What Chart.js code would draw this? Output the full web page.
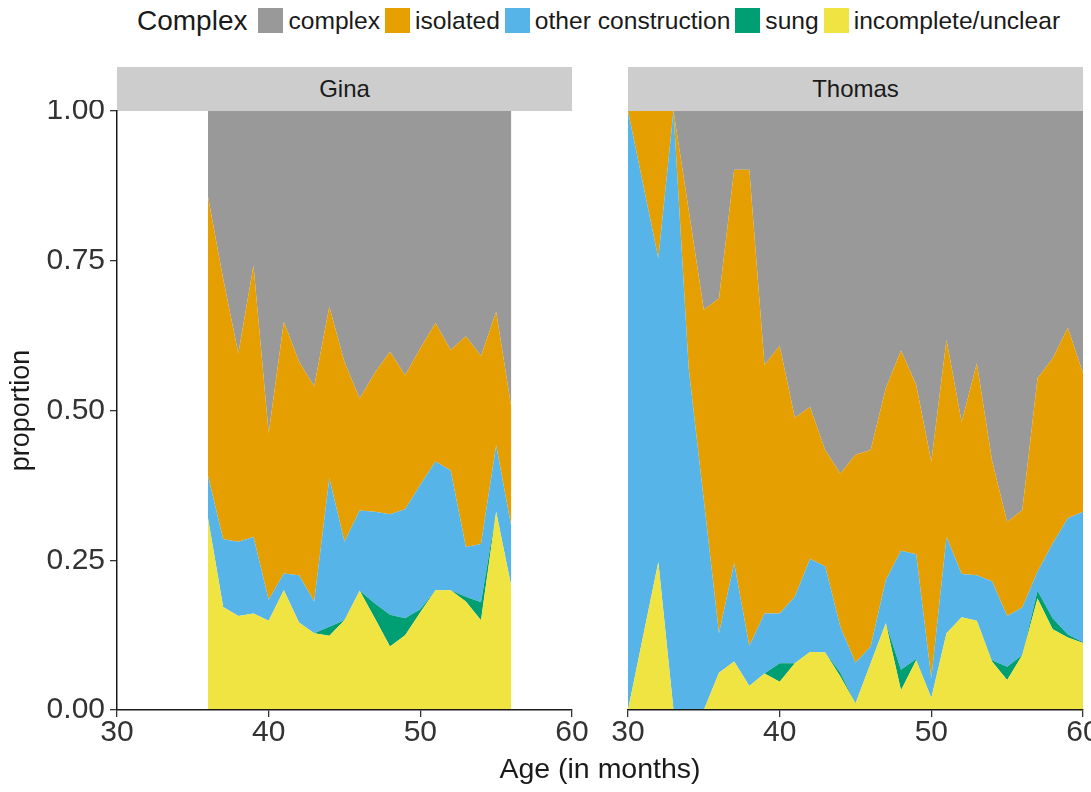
<!DOCTYPE html>
<html>
<head>
<meta charset="utf-8">
<script src="https://cdn.jsdelivr.net/npm/chart.js@4/dist/chart.umd.min.js"></script>
<style>
  body { margin: 0; background: #fff; width: 1091px; height: 792px; position: relative; overflow: hidden;
         font-family: "Liberation Sans", Arial, sans-serif; color: #1a1a1a; }
  canvas { position: absolute; }
  #legend { position: absolute; left: 137px; top: 8px; height: 25px; display: flex; align-items: center; white-space: nowrap; }
  #legend .title { font-size: 28px; margin-right: 11px; }
  #legend .sw { width: 25px; height: 25px; margin-right: 5px; }
  #legend .lab { font-size: 24.6px; margin-right: 5px; }
  .strip { position: absolute; top: 67px; height: 44px; width: 455px; background: #cdcdcd;
           font-size: 24px; display: flex; align-items: center; justify-content: center; }
  #xtitle { position: absolute; top: 752px; left: 400px; width: 400px; text-align: center; font-size: 28.5px; }
</style>
</head>
<body>
<div id="legend"></div>
<div class="strip" style="left:117px">Gina</div>
<div class="strip" style="left:628px">Thomas</div>
<canvas id="gina" width="600" height="660" style="left:0;top:100px"></canvas>
<canvas id="thomas" width="491" height="660" style="left:600px;top:100px"></canvas>
<div id="xtitle">Age (in months)</div>
<script>
// =============================
// Data (proportions per month)
// =============================
const seriesNames = ["complex", "isolated", "other construction", "sung", "incomplete/unclear"];
const xTicks = [30, 40, 50, 60];
const yTicks = [0, 0.25, 0.5, 0.75, 1];

const ginaAges       = [36, 37, 38, 39, 40, 41, 42, 43, 44, 45, 46, 47, 48, 49, 50, 51, 52, 53, 54, 55, 56];
const ginaIncomplete = [0.32, 0.172, 0.157, 0.161, 0.149, 0.20, 0.146, 0.128, 0.124, 0.15, 0.199, 0.153, 0.106, 0.125, 0.163, 0.20, 0.20, 0.181, 0.15, 0.331, 0.206];
const ginaSung       = [0, 0, 0, 0, 0, 0, 0, 0, 0.015, 0, 0, 0.025, 0.053, 0.028, 0.005, 0, 0, 0.008, 0.03, 0, 0];
const ginaOther      = [0.071, 0.113, 0.124, 0.128, 0.035, 0.028, 0.079, 0.053, 0.248, 0.131, 0.134, 0.153, 0.168, 0.182, 0.208, 0.215, 0.20, 0.083, 0.097, 0.111, 0.10];
const ginaIsolated   = [0.466, 0.435, 0.314, 0.453, 0.278, 0.42, 0.357, 0.359, 0.286, 0.30, 0.187, 0.232, 0.271, 0.224, 0.228, 0.231, 0.201, 0.352, 0.314, 0.223, 0.199];
const ginaComplex    = [0.143, 0.28, 0.405, 0.258, 0.538, 0.352, 0.418, 0.46, 0.327, 0.419, 0.48, 0.437, 0.402, 0.441, 0.396, 0.354, 0.399, 0.376, 0.409, 0.335, 0.495];

const thomasAges       = [30, 32, 33, 34, 35, 36, 37, 38, 39, 40, 41, 42, 43, 44, 45, 46, 47, 48, 49, 50, 51, 52, 53, 54, 55, 56, 57, 58, 59, 60];
const thomasIncomplete = [0, 0.247, 0, 0, 0, 0.062, 0.081, 0.04, 0.061, 0.047, 0.078, 0.097, 0.096, 0.056, 0.011, 0.078, 0.145, 0.033, 0.083, 0.02, 0.128, 0.155, 0.149, 0.081, 0.05, 0.092, 0.186, 0.135, 0.121, 0.112];
const thomasSung       = [0, 0, 0, 0, 0, 0, 0, 0, 0, 0.031, 0, 0, 0, 0.006, 0, 0, 0, 0.034, 0.002, 0, 0, 0, 0, 0.002, 0.022, 0, 0.013, 0.018, 0.005, 0.001];
const thomasOther      = [1.0, 0.507, 1.0, 0.571, 0.35, 0.066, 0.164, 0.067, 0.10, 0.083, 0.111, 0.155, 0.144, 0.077, 0.068, 0.028, 0.072, 0.199, 0.175, 0.033, 0.161, 0.072, 0.076, 0.132, 0.085, 0.079, 0.032, 0.125, 0.194, 0.218];
const thomasIsolated   = [0, 0.246, 0, 0.264, 0.318, 0.559, 0.657, 0.795, 0.415, 0.447, 0.299, 0.254, 0.194, 0.256, 0.347, 0.328, 0.32, 0.334, 0.283, 0.362, 0.329, 0.254, 0.354, 0.202, 0.157, 0.163, 0.323, 0.309, 0.318, 0.231];
const thomasComplex    = [0, 0, 0, 0.165, 0.332, 0.313, 0.098, 0.098, 0.424, 0.392, 0.512, 0.494, 0.566, 0.605, 0.574, 0.566, 0.463, 0.40, 0.457, 0.585, 0.382, 0.519, 0.421, 0.583, 0.686, 0.666, 0.446, 0.413, 0.362, 0.438];

// =============================
// Styles
// =============================
const seriesColors = {
  "complex": "#999999",
  "isolated": "#E69F00",
  "other construction": "#56B4E9",
  "sung": "#009E73",
  "incomplete/unclear": "#F0E442"
};
const FONT = "'Liberation Sans', Arial, sans-serif";
const INK = "#1a1a1a";

// legend
const legend = document.getElementById("legend");
legend.innerHTML = '<span class="title">Complex</span>' + seriesNames.map(n =>
  `<span class="sw" style="background:${seriesColors[n]}"></span><span class="lab">${n}</span>`).join("");

// =============================
// Charts
// =============================
function makeDatasets(ages, bySeries) {
  // stack from the bottom: incomplete, sung, other, isolated, complex
  return seriesNames.slice().reverse().map((name, i) => ({
    label: name,
    data: ages.map((a, j) => ({ x: a, y: bySeries[name][j] })),
    backgroundColor: seriesColors[name],
    borderWidth: 0,
    pointRadius: 0,
    tension: 0,
    fill: i === 0 ? "origin" : "-1"
  }));
}

function makeChart(id, ages, bySeries, showY, padding) {
  return new Chart(document.getElementById(id), {
    type: "line",
    data: { datasets: makeDatasets(ages, bySeries) },
    options: {
      responsive: false,
      animation: false,
      devicePixelRatio: 1,
      layout: { padding },
      plugins: { legend: { display: false }, tooltip: { enabled: false } },
      scales: {
        x: {
          type: "linear", min: 30, max: 60,
          afterBuildTicks: s => { s.ticks = xTicks.map(v => ({ value: v })); },
          afterFit: s => { s.height = 50; s.paddingLeft = 0; s.paddingRight = 0; },
          grid: { drawOnChartArea: false, tickLength: 7, color: "#333", lineWidth: 1.3 },
          border: { display: true, color: "#1a1a1a", width: 1.5, z: 1 },
          ticks: { color: "#333", padding: 1, maxRotation: 0, font: { family: FONT, size: 30, lineHeight: 1 } }
        },
        y: {
          display: showY,
          stacked: true, min: 0, max: 1,
          afterBuildTicks: s => { s.ticks = yTicks.map(v => ({ value: v })); },
          afterFit: s => { s.width = showY ? 117 : 0; s.paddingTop = 0; s.paddingBottom = 0; },
          grid: { drawOnChartArea: false, tickLength: 7, color: "#333", lineWidth: 1.3 },
          border: { display: true, color: "#1a1a1a", width: 1.5, z: 1 },
          ticks: { color: "#333", padding: 5, font: { family: FONT, size: 30, lineHeight: 1 },
                   callback: v => v.toFixed(2) },
          title: { display: true, text: "proportion", color: INK, padding: { top: 8, bottom: 0 },
                   font: { family: FONT, size: 27, lineHeight: 1 } }
        }
      }
    }
  });
}

makeChart("gina", ginaAges, {
  "complex": ginaComplex, "isolated": ginaIsolated, "other construction": ginaOther,
  "sung": ginaSung, "incomplete/unclear": ginaIncomplete
}, true, { left: 0, right: 28, top: 11, bottom: 0 });

makeChart("thomas", thomasAges, {
  "complex": thomasComplex, "isolated": thomasIsolated, "other construction": thomasOther,
  "sung": thomasSung, "incomplete/unclear": thomasIncomplete
}, false, { left: 28, right: 8, top: 11, bottom: 0 });
</script>
</body>
</html>
